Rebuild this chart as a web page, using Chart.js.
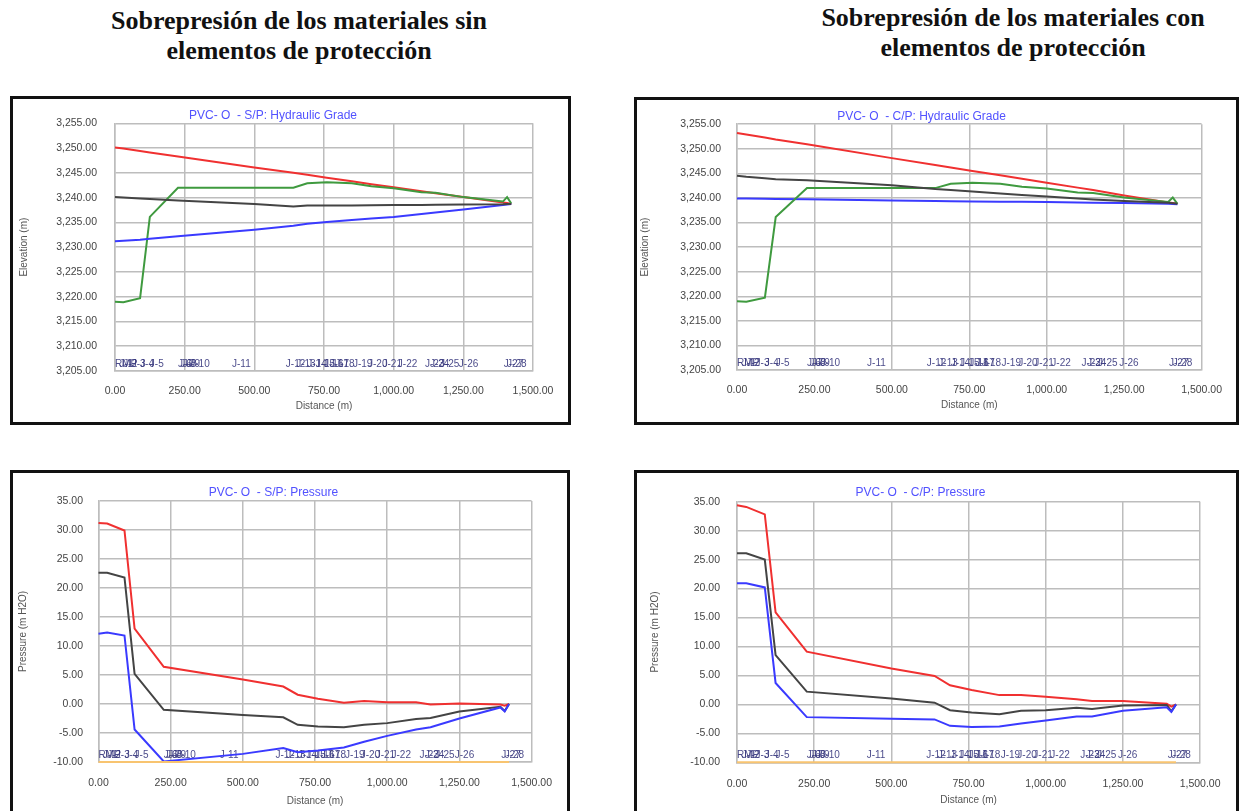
<!DOCTYPE html>
<html lang="es">
<head>
  <meta charset="UTF-8">
  <title>Sobrepresión de los materiales</title>
  <script src="https://cdn.jsdelivr.net/npm/chart.js"></script>
  <style>
    body {
      margin: 0;
      width: 1241px;
      height: 811px;
      overflow: hidden;
      background: #fff;
      position: relative;
      font-family: 'Liberation Sans', Arial, sans-serif;
    }

    .encabezado {
      position: absolute;
      width: 560px;
      text-align: center;
      font-family: 'Liberation Serif', 'Times New Roman', serif;
      font-weight: bold;
      font-size: 26px;
      line-height: 30px;
      color: #111;
    }

    .panel {
      position: absolute;
      border: 3px solid #111;
      background: #fff;
    }

    .panel canvas {
      display: block;
    }
  </style>
</head>
<body>

<!-- Encabezados -->
<div class="encabezado" style="left:19px; top:6px;">Sobrepresión de los materiales sin<br>elementos de protección</div>
<div class="encabezado" style="left:733px; top:3px;">Sobrepresión de los materiales con<br>elementos de protección</div>

<!-- Paneles -->
<div class="panel" style="left:10px; top:96px;"><canvas id="hgSP" width="555" height="323"></canvas></div>
<div class="panel" style="left:634px; top:97px;"><canvas id="hgCP" width="599" height="322"></canvas></div>
<div class="panel" style="left:10px; top:470px;"><canvas id="prSP" width="554" height="345"></canvas></div>
<div class="panel" style="left:634px; top:470px;"><canvas id="prCP" width="599" height="345"></canvas></div>

<script>
  // distancias de los nodos del perfil (m)
  var distances = [0, 30, 90, 125, 226, 500, 640, 690, 760, 850, 920, 1000, 1100, 1150, 1250, 1392, 1407, 1422];

  // cota del terreno (m)
  var elevation = [3219.0, 3218.9, 3219.7, 3236.1, 3242.0, 3242.0, 3242.0, 3242.9, 3243.1, 3242.9, 3242.3, 3241.9, 3241.1, 3241.0, 3240.1, 3239.2, 3240.1, 3238.8];

  // linea piezometrica sin proteccion
  var hgMaxSP  = [3250.1, 3249.9, 3249.4, 3249.1, 3248.3, 3246.1, 3245.0, 3244.6, 3244.0, 3243.3, 3242.7, 3242.1, 3241.3, 3240.9, 3240.1, 3239.0, 3238.9, 3238.7];
  var hgInitSP = [3240.1, 3240.0, 3239.8, 3239.7, 3239.4, 3238.7, 3238.2, 3238.4, 3238.4, 3238.4, 3238.45, 3238.5, 3238.5, 3238.55, 3238.6, 3238.65, 3238.7, 3238.7];
  var hgMinSP  = [3231.2, 3231.3, 3231.5, 3231.7, 3232.2, 3233.5, 3234.3, 3234.7, 3235.1, 3235.5, 3235.8, 3236.1, 3236.7, 3237.0, 3237.6, 3238.5, 3238.6, 3238.7];

  // linea piezometrica con proteccion
  var hgMaxCP  = [3253.2, 3252.9, 3252.3, 3251.9, 3250.9, 3248.1, 3246.7, 3246.2, 3245.5, 3244.6, 3243.9, 3243.1, 3242.1, 3241.6, 3240.5, 3239.1, 3238.95, 3238.8];
  var hgInitCP = [3244.5, 3244.3, 3244.0, 3243.8, 3243.6, 3242.6, 3241.8, 3241.6, 3241.3, 3240.9, 3240.6, 3240.3, 3239.9, 3239.7, 3239.4, 3239.0, 3238.9, 3238.8];
  var hgMinCP  = [3239.9, 3239.9, 3239.85, 3239.8, 3239.75, 3239.5, 3239.4, 3239.35, 3239.3, 3239.25, 3239.2, 3239.15, 3239.05, 3239.0, 3238.95, 3238.8, 3238.75, 3238.7];

  // presiones sin proteccion (m H2O)
  var prMaxSP  = [31.2, 31.1, 29.9, 13.0, 6.4, 4.2, 3.0, 1.6, 0.9, 0.2, 0.5, 0.3, 0.3, -0.1, 0.1, -0.1, -0.3, 0.0];
  var prInitSP = [22.6, 22.6, 21.8, 5.2, -1.0, -1.9, -2.3, -3.6, -3.9, -4.0, -3.6, -3.3, -2.6, -2.4, -1.3, -0.5, -1.2, 0.0];
  var prMinSP  = [12.1, 12.3, 11.8, -4.4, -9.9, -8.6, -7.6, -8.3, -8.0, -7.5, -6.5, -5.5, -4.4, -4.0, -2.5, -0.6, -1.3, 0.0];

  // presiones con proteccion (m H2O)
  var prMaxCP  = [34.4, 34.1, 32.8, 15.9, 9.1, 6.2, 4.9, 3.3, 2.5, 1.6, 1.6, 1.3, 0.9, 0.6, 0.6, 0.1, -0.4, 0.0];
  var prInitCP = [26.1, 26.1, 25.0, 8.5, 2.2, 1.0, 0.3, -1.0, -1.4, -1.7, -1.1, -1.0, -0.6, -0.8, -0.2, -0.1, -1.2, 0.0];
  var prMinCP  = [20.9, 20.9, 20.2, 3.7, -2.2, -2.5, -2.6, -3.7, -3.9, -3.8, -3.3, -2.8, -2.1, -2.1, -1.1, -0.5, -1.3, 0.0];

  // presion de vapor
  var vaporDist  = [0, 1422];
  var vaporPress = [-10, -10];

  // etiquetas de nudos
  var junctionNames = ['RMP', 'J-1', 'J-2', 'J-3', 'J-4', 'J-5', 'J-6', 'J-7', 'J-8', 'J-9', 'J-10', 'J-11',
    'J-12', 'J-13', 'J-14', 'J-15', 'J-16', 'J-17', 'J-18', 'J-19', 'J-20', 'J-21', 'J-22', 'J-23', 'J-24',
    'J-25', 'J-26', 'J-27', 'J-28'];
  var junctionDist = [0, 15, 30, 60, 90, 125, 226, 234, 242, 255, 270, 420, 613, 650, 690, 720, 750, 770, 790,
    854, 908, 960, 1015, 1112, 1130, 1166, 1234, 1395, 1407];

  var xTicks = [0, 250, 500, 750, 1000, 1250, 1500];

  Chart.defaults.font.family = "'Liberation Sans', Arial, sans-serif";
  Chart.defaults.animation = false;

  function puntos(xs, ys) {
    return xs.map(function (x, i) { return { x: x, y: ys[i] }; });
  }

  function serie(ys, color, xs) {
    return {
      data: puntos(xs || distances, ys),
      borderColor: color,
      borderWidth: 2,
      pointRadius: 0,
      tension: 0,
      fill: false,
      clip: 4
    };
  }

  function formato(v) {
    return Number(v).toLocaleString('en-US', { minimumFractionDigits: 2, maximumFractionDigits: 2 });
  }

  // dibuja los nombres de los nudos sobre el eje
  var etiquetasNudos = {
    id: 'etiquetasNudos',
    beforeDatasetsDraw: function (chart) {
      var ctx = chart.ctx;
      var xs = chart.scales.x;
      var y = chart.chartArea.bottom - 7;
      ctx.save();
      ctx.font = "10px 'Liberation Sans', Arial, sans-serif";
      ctx.fillStyle = 'rgba(55, 55, 125, 0.9)';
      ctx.textAlign = 'left';
      ctx.textBaseline = 'middle';
      junctionNames.forEach(function (n, i) {
        ctx.fillText(n, xs.getPixelForValue(junctionDist[i]), y);
      });
      ctx.restore();
    }
  };

  function crearGrafico(id, titulo, yTitulo, yMin, yMax, datasets, L) {
    var gris = '#bdbdbd';
    return new Chart(document.getElementById(id), {
      type: 'line',
      data: { datasets: datasets },
      plugins: [etiquetasNudos],
      options: {
        responsive: false,
        layout: { padding: { left: 0, right: L.pr, top: 0, bottom: 0 } },
        plugins: {
          legend: { display: false },
          tooltip: { enabled: false },
          title: {
            display: true,
            text: titulo,
            color: '#5252ff',
            font: { size: 12, weight: 'normal' },
            padding: { top: L.tt, bottom: L.tb }
          }
        },
        scales: {
          x: {
            type: 'linear',
            min: 0,
            max: 1500,
            afterBuildTicks: function (s) { s.ticks = xTicks.map(function (v) { return { value: v }; }); },
            afterFit: function (s) { s.height = L.xh; },
            grid: { color: gris, lineWidth: 1.5, drawTicks: false },
            border: { color: gris, width: 1.5 },
            ticks: { color: '#444', font: { size: 10.5 }, padding: L.xp, maxRotation: 0, callback: formato },
            title: { display: true, text: 'Distance (m)', color: '#555', font: { size: 10 }, padding: { top: 0, bottom: L.xtb } }
          },
          y: {
            min: yMin,
            max: yMax,
            afterFit: function (s) { s.width = L.yw; },
            grid: { color: gris, lineWidth: 1.5, drawTicks: false },
            border: { color: gris, width: 1.5 },
            ticks: { color: '#444', font: { size: 10.5 }, padding: L.yp, stepSize: 5, callback: formato },
            title: { display: true, text: yTitulo, color: '#555', font: { size: 10 }, padding: { top: L.ytt, bottom: 0 } }
          }
        }
      }
    });
  }

  var rojo = '#f03030';
  var negro = '#444444';
  var azul = '#3a3aff';
  var verde = '#3f9a3f';
  var naranja = '#f8c470';

  crearGrafico('hgSP', 'PVC- O  - S/P: Hydraulic Grade', 'Elevation (m)', 3205, 3255, [
    serie(hgInitSP, negro), serie(hgMinSP, azul), serie(elevation, verde), serie(hgMaxSP, rojo)
  ], { pr: 35, tt: 6.8, tb: 0, xh: 51, xp: 14, xtb: 10, yw: 102, yp: 18, ytt: 5 });

  crearGrafico('hgCP', 'PVC- O  - C/P: Hydraulic Grade', 'Elevation (m)', 3205, 3255, [
    serie(hgInitCP, negro), serie(elevation, verde), serie(hgMinCP, azul), serie(hgMaxCP, rojo)
  ], { pr: 30, tt: 9.8, tb: 0, xh: 52, xp: 14, xtb: 11, yw: 100, yp: 16, ytt: 2 });

  crearGrafico('prSP', 'PVC- O  - S/P: Pressure', 'Pressure (m H2O)', -10, 35, [
    serie(vaporPress, naranja, vaporDist), serie(prMinSP, azul), serie(prInitSP, negro), serie(prMaxSP, rojo)
  ], { pr: 33, tt: 12.5, tb: 1, xh: 56, xp: 15, xtb: 11, yw: 85.5, yp: 15.5, ytt: 4.6 });

  crearGrafico('prCP', 'PVC- O  - C/P: Pressure', 'Pressure (m H2O)', -10, 35, [
    serie(vaporPress, naranja, vaporDist), serie(prMinCP, azul), serie(prInitCP, negro), serie(prMaxCP, rojo)
  ], { pr: 32, tt: 12.8, tb: 1.5, xh: 55.7, xp: 15.5, xtb: 12, yw: 100, yp: 17, ytt: 12.5 });
</script>

</body>
</html>
